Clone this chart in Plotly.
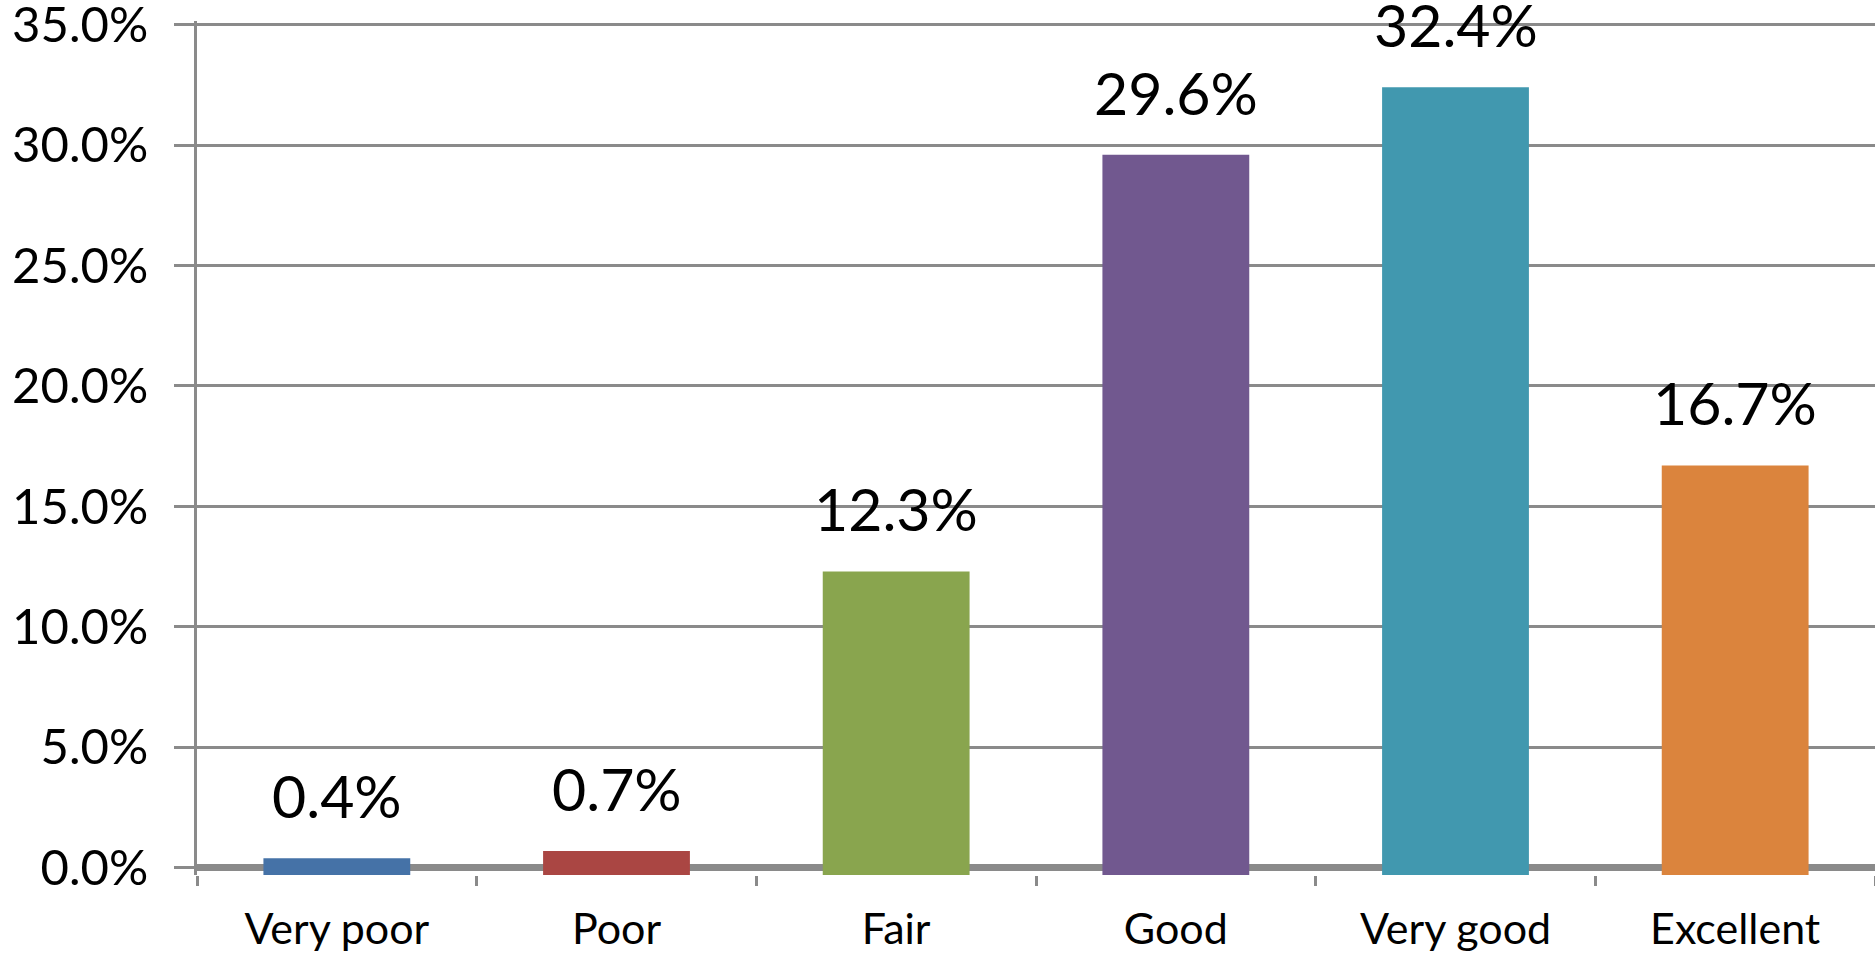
import plotly.graph_objects as go

categories = ["Very poor", "Poor", "Fair", "Good", "Very good", "Excellent"]
values = [0.4, 0.7, 12.3, 29.6, 32.4, 16.7]
colors = ["#4572A7", "#AA4643", "#89A54E", "#71588F", "#4198AF", "#DB843D"]
y_ticks = [0, 5, 10, 15, 20, 25, 30, 35]

GRID = "#8a8a8a"
FONT = "Lato"

fig = go.Figure()
fig.add_trace(go.Bar(
    x=categories,
    y=[v + 0.3 for v in values],
    base=-0.3,
    marker=dict(color=colors, line=dict(width=0)),
    hoverinfo="skip",
))

for c, v in zip(categories, values):
    fig.add_annotation(
        x=c, y=v, text=f"{v:.1f}%", showarrow=False,
        yanchor="bottom", yshift=25,
        font=dict(family=FONT, size=59, color="#000000"),
    )

fig.update_layout(
    width=1875, height=953,
    margin=dict(l=197, r=0, t=21, b=78),
    paper_bgcolor="white", plot_bgcolor="white",
    showlegend=False,
    bargap=0.475,
    font=dict(family=FONT, color="#000000"),
)
fig.update_xaxes(
    automargin=False,
    showgrid=False, showline=False,
    ticks="outside", tickson="boundaries", ticklen=10, tickwidth=3, tickcolor=GRID,
    tickfont=dict(family=FONT, size=43, color="#000000"),
    ticklabelstandoff=25,
)
fig.update_yaxes(
    automargin=False,
    range=[-0.3, 35.15],
    tickvals=y_ticks, ticktext=[f"{t:.1f}%" for t in y_ticks],
    showgrid=True, gridcolor=GRID, gridwidth=3,
    zeroline=True, zerolinecolor=GRID, zerolinewidth=7,
    showline=True, linecolor=GRID, linewidth=3,
    ticks="outside", ticklen=20, tickwidth=3, tickcolor=GRID,
    tickfont=dict(family=FONT, size=49, color="#000000"),
    ticklabelstandoff=16,
    ticklabeloverflow="allow",
)

fig.write_html(
    "out.html",
    config={"displayModeBar": False},
    post_script="document.body.style.margin='0';document.body.style.overflow='hidden';",
)
